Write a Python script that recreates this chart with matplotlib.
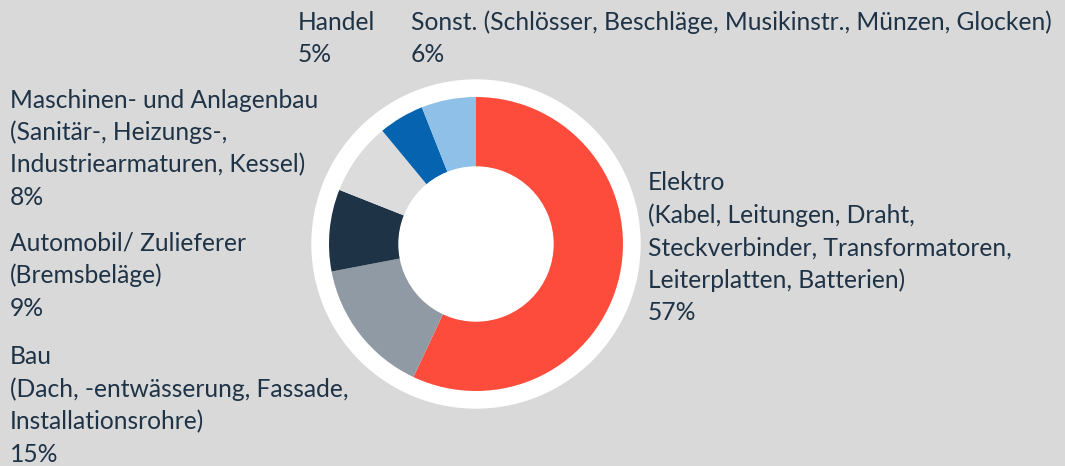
import matplotlib
matplotlib.use("Agg")
import matplotlib.pyplot as plt
from matplotlib.patches import Circle

categories = ["Elektro", "Bau", "Automobil/ Zulieferer", "Maschinen- und Anlagenbau", "Handel", "Sonst."]
values = [57, 15, 9, 8, 5, 6]
colors = ["#fd4c3c", "#8f9aa5", "#1f3347", "#dcdcdc", "#0563b0", "#8fc1e8"]

label_lines = {
    "Elektro": ["Elektro", "(Kabel, Leitungen, Draht,", "Steckverbinder, Transformatoren,", "Leiterplatten, Batterien)", "57%"],
    "Bau": ["Bau", "(Dach, -entwässerung, Fassade,", "Installationsrohre)", "15%"],
    "Automobil/ Zulieferer": ["Automobil/ Zulieferer", "(Bremsbeläge)", "9%"],
    "Maschinen- und Anlagenbau": ["Maschinen- und Anlagenbau", "(Sanitär-, Heizungs-,", "Industriearmaturen, Kessel)", "8%"],
    "Handel": ["Handel", "5%"],
    "Sonst.": ["Sonst. (Schlösser, Beschläge, Musikinstr., Münzen, Glocken)", "6%"],
}

# layout (pixels from top-left)
W, H = 1065, 466
label_pos = {
    "Elektro": (648, 183),
    "Bau": (10, 357),
    "Automobil/ Zulieferer": (10, 243),
    "Maschinen- und Anlagenbau": (10, 100),
    "Handel": (298, 22),
    "Sonst.": (411, 22),
}
line_h = 32.5
bg = "#d9d9d9"
txt_color = "#1f3347"

fig = plt.figure(figsize=(W / 100, H / 100), dpi=100, facecolor=bg)
ax = fig.add_axes([0, 0, 1, 1])
ax.set_facecolor(bg)

cx, cy = 476, H - 244
R = 147
ax.add_patch(Circle((cx, cy), 164, color="white", zorder=0))
ax.pie(values, colors=colors, startangle=90, counterclock=False, center=(cx, cy),
       radius=R, wedgeprops=dict(width=R - 77, linewidth=0), frame=True)
ax.add_patch(Circle((cx, cy), 77, color="white", zorder=5))
ax.set_xlim(0, W)
ax.set_ylim(0, H)
ax.set_aspect("equal")
ax.axis("off")

for cat in categories:
    x0, y0 = label_pos[cat]
    for i, line in enumerate(label_lines[cat]):
        ax.text(x0, H - (y0 + i * line_h), line, fontsize=17.7, family="Lato",
                color=txt_color, va="center", ha="left")

fig.savefig("out.png", dpi=100, facecolor=bg)
